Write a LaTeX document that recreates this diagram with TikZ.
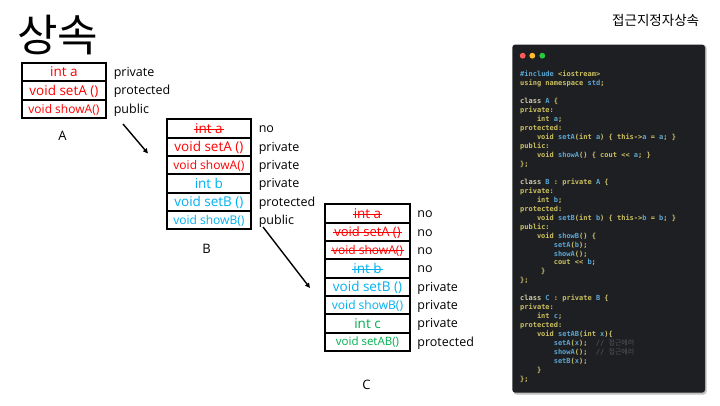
\documentclass[tikz,border=0pt]{standalone}
\usepackage{fontspec}
\setmainfont{Open Sans}
\newfontfamily\krfont{Noto Sans CJK KR}
\newfontfamily\codefont{DejaVu Sans Mono Bold}
\usetikzlibrary{arrows.meta,calc}
\definecolor{pred}{RGB}{255,0,0}
\definecolor{pblue}{RGB}{0,176,240}
\definecolor{pgreen}{RGB}{0,176,80}
\definecolor{codebg}{RGB}{30,31,34}
\definecolor{kwc}{RGB}{204,192,96}
\definecolor{idc}{RGB}{90,166,212}
\definecolor{puc}{RGB}{210,196,110}
\definecolor{clc}{RGB}{210,204,170}
\definecolor{cmc}{RGB}{80,83,88}
\definecolor{dotr}{RGB}{255,95,86}
\definecolor{doty}{RGB}{255,189,46}
\definecolor{dotg}{RGB}{39,201,63}
\newcommand\ckw[1]{\textcolor{kwc}{#1}}
\newcommand\ccl[1]{\textcolor{clc}{#1}}
\newcommand\cid[1]{\textcolor{idc}{#1}}
\newcommand\cpu[1]{\textcolor{puc}{#1}}
\newcommand\ccm[1]{\textcolor{cmc}{#1}}
\tikzset{
  cell/.style={draw=black, line width=1.9pt, anchor=north west, inner sep=0pt,
    minimum width=84.5pt, minimum height=18.33pt},
  ctext/.style={inner sep=0pt, anchor=base},
  lab/.style={inner sep=0pt, anchor=base west, font=\fontsize{12.5}{14}\selectfont},
  capletter/.style={inner sep=0pt, font=\fontsize{13}{15}\selectfont},
  codeln/.style={inner sep=0pt, anchor=base west, font=\codefont\fontsize{7}{8}\selectfont},
  arr/.style={line width=1.4pt, -{Triangle[length=5pt,width=4.6pt]}},
  strk/.style={line width=0.9pt}
}
% name, x, ytop, color, size, text, label
\newcommand\crow[7]{%
  \node[cell] (#1) at (#2,#3) {};
  \node[ctext, text=#4, font=\fontsize{#5}{#5}\selectfont] (#1t) at ($(#1.center)+(0,{0.36*#5})$) {#6};
  \node[lab] (#1l) at ($(#1.east)+(6.5,4.5)$) {#7};
}
\newcommand\strike[2]{%
  \draw[strk, #2] ($(#1.base west)+(-1,-3.7)$) -- ($(#1.base east)+(1,-3.7)$);
}
\newcommand\cdl[3]{%
  \node[codeln] (cl#1) at ({520+4.2*#2},{76.8+8.96*(#1-1)}) {#3};
}
\begin{document}
\begin{tikzpicture}[x=1pt,y=-1pt]
\useasboundingbox (0,0) rectangle (720,405);
\fill[white] (0,0) rectangle (720,405);
% titles
\node[inner sep=0pt, anchor=base west, font=\krfont\fontsize{44}{48}\selectfont] (title) at (17,51) {상속};
\node[inner sep=0pt, anchor=base west, font=\krfont\fontsize{13.5}{15}\selectfont] (subtitle) at (612,25) {접근지정자상속};
% Class A
\crow{a1}{20.7}{62}{pred}{13.5}{int a}{private}
\crow{a2}{20.7}{80.33}{pred}{13.5}{void setA ()}{protected}
\crow{a3}{20.7}{98.66}{pred}{12}{void showA()}{public}
\node[capletter] (capA) at (62.5,136) {A};
% Class B
\crow{b1}{165.7}{118.3}{pred}{13.5}{int a}{no}
\crow{b2}{165.7}{136.63}{pred}{13.5}{void setA ()}{private}
\crow{b3}{165.7}{154.96}{pred}{12}{void showA()}{private}
\crow{b4}{165.7}{173.29}{pblue}{13.5}{int b}{private}
\crow{b5}{165.7}{191.62}{pblue}{13.5}{void setB ()}{protected}
\crow{b6}{165.7}{209.95}{pblue}{12}{void showB()}{public}
\strike{b1t}{pred}
\node[capletter] (capB) at (206.5,248.5) {B};
% Class C
\crow{c1}{324.3}{203.3}{pred}{13.5}{int a}{no}
\crow{c2}{324.3}{221.63}{pred}{13}{void setA ()}{no}
\crow{c3}{324.3}{239.96}{pred}{12}{void showA()}{no}
\crow{c4}{324.3}{258.29}{pblue}{13.5}{int b}{no}
\crow{c5}{324.3}{276.62}{pblue}{13.5}{void setB ()}{private}
\crow{c6}{324.3}{294.95}{pblue}{12}{void showB()}{private}
\crow{c7}{324.3}{313.28}{pgreen}{13.5}{int c}{private}
\crow{c8}{324.3}{331.61}{pgreen}{11.5}{void setAB()}{protected}
\strike{c1t}{pred}
\strike{c2t}{pred}
\strike{c3t}{pred}
\strike{c4t}{pblue}
\node[capletter] (capC) at (366.5,385) {C};
% arrows
\coordinate (ar1s) at (123,124);
\coordinate (ar1e) at (148,153.5);
\coordinate (ar2s) at (263,227);
\coordinate (ar2e) at (310,288);
\draw[arr] (ar1s) -- (ar1e);
\draw[arr] (ar2s) -- (ar2e);
% code panel
\fill[black!25, rounded corners=3pt] (513.5,45) rectangle (706.5,394.5);
\fill[codebg, rounded corners=3pt] (512.3,44.5) rectangle (705,392.7);
\fill[dotr] (522.7,55.7) circle (2.9);
\fill[doty] (532.3,55.7) circle (2.9);
\fill[dotg] (542.3,55.7) circle (2.9);
\cdl{1}{0}{\cid{\#include} \ckw{<iostream>}}
\cdl{2}{0}{\ckw{using namespace} \cid{std}\cpu{;}}
\cdl{4}{0}{\ccl{class} \cid{A} \cpu{\{}}
\cdl{5}{0}{\ckw{private:}}
\cdl{6}{4}{\ckw{int} \cid{a}\cpu{;}}
\cdl{7}{0}{\ckw{protected:}}
\cdl{8}{4}{\ckw{void} \cid{setA}\cpu{(}\ckw{int} \cid{a}\cpu{) \{} \ckw{this}\cpu{->}\cid{a} \cpu{=} \cid{a}\cpu{; \}}}
\cdl{9}{0}{\ckw{public:}}
\cdl{10}{4}{\ckw{void} \cid{showA}\cpu{() \{} \ckw{cout} \cpu{<<} \cid{a}\cpu{; \}}}
\cdl{11}{0}{\cpu{\};}}
\cdl{13}{0}{\ccl{class} \cid{B} \ckw{: private} \cid{A} \cpu{\{}}
\cdl{14}{0}{\ckw{private:}}
\cdl{15}{4}{\ckw{int} \cid{b}\cpu{;}}
\cdl{16}{0}{\ckw{protected:}}
\cdl{17}{4}{\ckw{void} \cid{setB}\cpu{(}\ckw{int} \cid{b}\cpu{) \{} \ckw{this}\cpu{->}\cid{b} \cpu{=} \cid{b}\cpu{; \}}}
\cdl{18}{0}{\ckw{public:}}
\cdl{19}{4}{\ckw{void} \cid{showB}\cpu{() \{}}
\cdl{20}{8}{\cid{setA}\cpu{(}\cid{b}\cpu{);}}
\cdl{21}{8}{\cid{showA}\cpu{();}}
\cdl{22}{8}{\ckw{cout} \cpu{<<} \cid{b}\cpu{;}}
\cdl{23}{5}{\cpu{\}}}
\cdl{24}{0}{\cpu{\};}}
\cdl{26}{0}{\ccl{class} \cid{C} \ckw{: private} \cid{B} \cpu{\{}}
\cdl{27}{0}{\ckw{private:}}
\cdl{28}{4}{\ckw{int} \cid{c}\cpu{;}}
\cdl{29}{0}{\ckw{protected:}}
\cdl{30}{4}{\ckw{void} \cid{setAB}\cpu{(}\ckw{int} \cid{x}\cpu{)\{}}
\cdl{31}{8}{\cid{setA}\cpu{(}\cid{x}\cpu{);}\ \ \ccm{// {\krfont 접근에러}}}
\cdl{32}{8}{\cid{showA}\cpu{();}\ \ \ccm{// {\krfont 접근에러}}}
\cdl{33}{8}{\cid{setB}\cpu{(}\cid{x}\cpu{);}}
\cdl{34}{4}{\cpu{\}}}
\cdl{35}{0}{\cpu{\};}}
\end{tikzpicture}
\end{document}
